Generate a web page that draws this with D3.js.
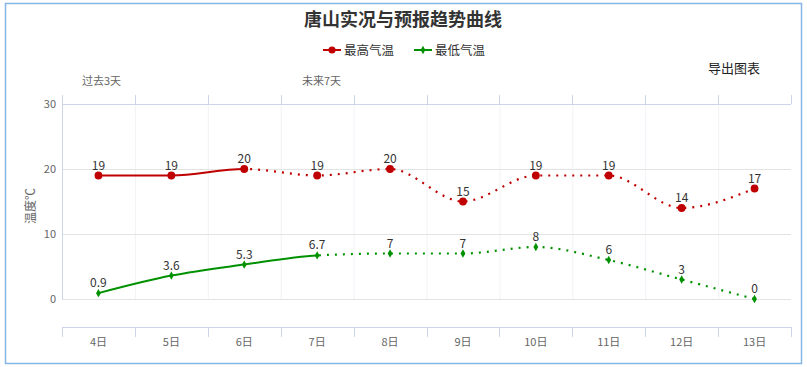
<!DOCTYPE html>
<html><head><meta charset="utf-8">
<script src="https://cdn.jsdelivr.net/npm/d3@7"></script>
<style>body{margin:0;background:#fff}svg{display:block;font-family:"Noto Sans CJK SC","Noto Sans",sans-serif}</style>
</head><body><svg id="c" width="807" height="367"></svg>
<script>
const categories = ["4日","5日","6日","7日","8日","9日","10日","11日","12日","13日"];
const maxTemp = [19,19,20,19,20,15,19,19,14,17];
const minTemp = [0.9,3.6,5.3,6.7,7,7,8,6,3,0];
const maxSolidUntil = 2;   // last observed index (solid line)
const minSolidUntil = 3;
const yTicks = [0,10,20,30];
const legendNames = ["最高气温","最低气温"];
const colors = ["#c00000","#009100"];

const svg = d3.select("#c");
const L = 62, R = 791, T = 104, B0 = 299, XA = 327;
const x = d3.scaleBand().domain(categories).range([L,R]);
const y = d3.scaleLinear().domain([0,30]).range([B0,T]);
const cx = c => x(c) + x.bandwidth()/2;

// outer border
svg.append("rect").attr("x",5.5).attr("y",3.5).attr("width",796).attr("height",360)
  .attr("fill","none").attr("stroke","#85b6e8").attr("stroke-width",1.5);

// title
svg.append("text").attr("x",403).attr("y",26).attr("text-anchor","middle")
  .attr("font-size",18).attr("font-weight","bold").attr("fill","#333").text("唐山实况与预报趋势曲线");

// legend
const lg = [{x:323,name:legendNames[0],c:colors[0],sym:d3.symbolCircle,s:40},{x:414,name:legendNames[1],c:colors[1],sym:d3.symbolDiamond,s:20}];
lg.forEach(d=>{
  const g = svg.append("g").attr("transform",`translate(${d.x},50)`);
  g.append("line").attr("x1",0).attr("x2",18).attr("stroke",d.c).attr("stroke-width",2);
  g.append("path").attr("d",d3.symbol().type(d.sym).size(d.s)()).attr("transform","translate(9,0)").attr("fill",d.c);
  g.append("text").attr("x",21).attr("y",4.5).attr("font-size",12.5).attr("fill","#333").text(d.name);
});

svg.append("text").attr("x",760).attr("y",73).attr("text-anchor","end").attr("font-size",13).attr("fill","#222").text("导出图表");

// top labels
svg.append("text").attr("x",82).attr("y",85).attr("font-size",11).attr("fill","#666").text("过去3天");
svg.append("text").attr("x",302).attr("y",85).attr("font-size",11).attr("fill","#666").text("未来7天");

// grid
const bounds = categories.map(c=>x(c)).concat([R]);
svg.append("g").selectAll("line").data(bounds.slice(1,-1)).join("line")
  .attr("x1",d=>d+0.5).attr("x2",d=>d+0.5).attr("y1",T).attr("y2",B0).attr("stroke","#f0f2f6");
svg.append("g").selectAll("line").data(yTicks.filter(t=>t<30)).join("line")
  .attr("x1",L).attr("x2",R).attr("y1",d=>Math.round(y(d))+0.5).attr("y2",d=>Math.round(y(d))+0.5).attr("stroke","#e3e3e3");
// top axis
svg.append("line").attr("x1",L).attr("x2",R).attr("y1",Math.round(y(30))+0.5).attr("y2",Math.round(y(30))+0.5).attr("stroke","#ccd6eb");
svg.append("g").selectAll("line").data(bounds).join("line")
  .attr("x1",d=>Math.round(d)+0.5).attr("x2",d=>Math.round(d)+0.5).attr("y1",95).attr("y2",T).attr("stroke","#ccd6eb");
// left axis line
svg.append("line").attr("x1",L+0.5).attr("x2",L+0.5).attr("y1",T).attr("y2",B0).attr("stroke","#ccd6eb");
// y labels
svg.append("g").selectAll("text").data(yTicks).join("text")
  .attr("x",56).attr("y",d=>y(d)+4).attr("text-anchor","end").attr("font-size",11).attr("fill","#666").text(d=>d);
svg.append("text").attr("transform","translate(35,206) rotate(-90)").attr("text-anchor","middle")
  .attr("font-size",12).attr("fill","#666").text("温度℃");
// bottom axis
svg.append("line").attr("x1",L).attr("x2",R).attr("y1",XA+0.5).attr("y2",XA+0.5).attr("stroke","#ccd6eb");
svg.append("g").selectAll("line").data(bounds).join("line")
  .attr("x1",d=>Math.round(d)+0.5).attr("x2",d=>Math.round(d)+0.5).attr("y1",XA).attr("y2",XA+10).attr("stroke","#ccd6eb");
svg.append("g").selectAll("text").data(categories).join("text")
  .attr("x",d=>cx(d)).attr("y",346).attr("text-anchor","middle").attr("font-size",11).attr("fill","#666").text(d=>d);

// series
const defs = svg.append("defs");
function series(vals, solidUntil, color, sym, symSize, id){
  const pts = vals.map((v,i)=>[cx(categories[i]), y(v)]);
  const line = d3.line().curve(d3.curveMonotoneX);
  const sx = pts[solidUntil][0];
  defs.append("clipPath").attr("id",id+"a").append("rect").attr("x",0).attr("y",0).attr("width",sx).attr("height",367);
  defs.append("clipPath").attr("id",id+"b").append("rect").attr("x",sx).attr("y",0).attr("width",807-sx).attr("height",367);
  svg.append("path").attr("d",line(pts)).attr("fill","none").attr("stroke",color).attr("stroke-width",2)
    .attr("clip-path",`url(#${id}a)`);
  svg.append("path").attr("d",line(pts)).attr("fill","none").attr("stroke",color).attr("stroke-width",2.2)
    .attr("stroke-dasharray","2,6").attr("clip-path",`url(#${id}b)`);
  svg.append("g").selectAll("path").data(pts).join("path")
    .attr("d",d3.symbol().type(sym).size(symSize)()).attr("transform",d=>`translate(${d[0]},${d[1]})`).attr("fill",color);
  svg.append("g").selectAll("text").data(vals).join("text")
    .attr("x",(d,i)=>pts[i][0]).attr("y",(d,i)=>pts[i][1]-6).attr("text-anchor","middle")
    .attr("font-size",12).attr("fill","#333").text(d=>d);
}
series(maxTemp, maxSolidUntil, colors[0], d3.symbolCircle, 48, "mx");
series(minTemp, minSolidUntil, colors[1], d3.symbolDiamond, 20, "mn");
</script></body></html>
